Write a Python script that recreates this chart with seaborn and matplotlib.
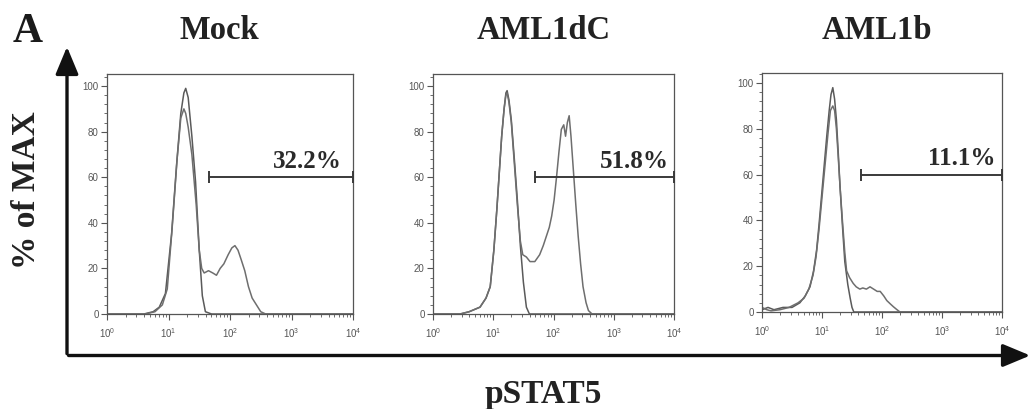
import numpy as np
import pandas as pd
import seaborn as sns
import matplotlib
matplotlib.use("Agg")
import matplotlib.pyplot as plt
from matplotlib.patches import FancyArrowPatch
from matplotlib.ticker import FixedLocator, AutoMinorLocator, LogLocator, NullFormatter

# ---------------- data ----------------
panel_titles = ["Mock", "AML1dC", "AML1b"]
gate_percent = ["32.2%", "51.8%", "11.1%"]
gate_start = [46, 49, 45]          # fluorescence value where the gate begins
gate_end = [10000, 10000, 10000]
gate_level = [60, 60, 60]          # % of MAX height of the gate bar
y_ticks = [0, 20, 40, 60, 80, 100]
x_tick_decades = [0, 1, 2, 3, 4]

# Mock
mock_ctrl_logx = [0.0, 0.6, 0.75, 0.85, 0.95, 1.05, 1.13, 1.2, 1.25, 1.28, 1.32, 1.38, 1.44, 1.5, 1.55, 1.6, 1.7, 4.0]
mock_ctrl_y = [0, 0, 1, 3, 9, 35, 65, 88, 97, 99, 95, 78, 58, 28, 8, 1, 0, 0]
mock_samp_logx = [0.0, 0.62, 0.78, 0.9, 0.98, 1.06, 1.14, 1.2, 1.25, 1.28, 1.32, 1.38, 1.45, 1.5, 1.54,
                  1.58, 1.65, 1.72, 1.78, 1.84, 1.9, 1.97, 2.03, 2.08, 2.13, 2.18, 2.24, 2.3, 2.36, 2.43,
                  2.5, 2.58, 4.0]
mock_samp_y = [0, 0, 1, 4, 11, 38, 68, 86, 90, 88, 82, 70, 48, 28, 20,
               18, 19, 18, 17, 20, 22, 26, 29, 30, 28, 24, 19, 12, 7, 4,
               1, 0, 0]

# AML1dC
aml1dc_ctrl_logx = [0.0, 0.45, 0.6, 0.78, 0.88, 0.95, 1.01, 1.06, 1.1, 1.14, 1.18, 1.21, 1.23, 1.26, 1.3,
                    1.35, 1.4, 1.45, 1.5, 1.55, 1.6, 4.0]
aml1dc_ctrl_y = [0, 0, 1, 3, 7, 12, 28, 46, 62, 78, 90, 97, 98, 94, 85,
                 68, 50, 30, 14, 3, 0, 0]
aml1dc_samp_logx = [0.0, 0.45, 0.6, 0.78, 0.88, 0.95, 1.01, 1.06, 1.1, 1.14, 1.18, 1.21, 1.23, 1.26, 1.3,
                    1.35, 1.4, 1.45, 1.49, 1.55, 1.61, 1.69, 1.77, 1.83, 1.88, 1.93, 1.97, 2.01, 2.05,
                    2.09, 2.13, 2.17, 2.2, 2.23, 2.26, 2.29, 2.33, 2.37, 2.41, 2.45, 2.49, 2.54, 2.58,
                    2.64, 4.0]
aml1dc_samp_y = [0, 0, 1, 3, 7, 12, 28, 46, 62, 78, 90, 96, 97, 93, 84,
                 66, 48, 32, 26, 25, 23, 23, 26, 30, 34, 38, 43, 50, 60,
                 71, 81, 83, 78, 84, 87, 78, 63, 48, 34, 22, 12, 5, 1.5,
                 0, 0]

# AML1b
aml1b_ctrl_logx = [0.0, 0.1, 0.2, 0.35, 0.5, 0.63, 0.72, 0.8, 0.86, 0.91, 0.95, 0.99, 1.04, 1.08, 1.12,
                   1.15, 1.18, 1.21, 1.24, 1.27, 1.3, 1.34, 1.38, 1.43, 1.47, 1.5, 1.53, 1.6, 4.0]
aml1b_ctrl_y = [1, 2, 1, 2, 2, 4, 7, 11, 18, 27, 38, 50, 65, 77, 88,
                95, 98, 93, 84, 70, 55, 38, 22, 12, 6, 2, 0, 0, 0]
aml1b_samp_logx = [0.0, 0.08, 0.15, 0.3, 0.45, 0.6, 0.7, 0.78, 0.85, 0.9, 0.95, 1.0, 1.05, 1.1, 1.14,
                   1.18, 1.21, 1.24, 1.27, 1.3, 1.34, 1.38, 1.41, 1.46, 1.52, 1.57, 1.63, 1.68, 1.74,
                   1.8, 1.86, 1.92, 1.97, 2.03, 2.08, 2.14, 2.19, 2.25, 2.3, 4.0]
aml1b_samp_y = [2, 1, 0.5, 1, 2, 4, 6, 10, 16, 24, 36, 50, 64, 78, 88,
                90, 88, 80, 68, 55, 40, 26, 18, 15, 12.5, 11, 10, 10.5, 10,
                11, 10, 9, 9, 7, 5, 3.5, 2.3, 1, 0, 0]

curves = [
    [(mock_ctrl_logx, mock_ctrl_y), (mock_samp_logx, mock_samp_y)],
    [(aml1dc_ctrl_logx, aml1dc_ctrl_y), (aml1dc_samp_logx, aml1dc_samp_y)],
    [(aml1b_ctrl_logx, aml1b_ctrl_y), (aml1b_samp_logx, aml1b_samp_y)],
]

# ---------------- style ----------------
sns.set_theme(style="ticks")
plt.rcParams["font.family"] = ["Liberation Sans", "DejaVu Sans"]
plt.rcParams["mathtext.fontset"] = "custom"
plt.rcParams["mathtext.rm"] = "Liberation Sans"
plt.rcParams["mathtext.it"] = "Liberation Sans"

W, H = 1036, 409
fig = plt.figure(figsize=(W / 100, H / 100), dpi=100)
fig.patch.set_facecolor("white")

# axes rectangles in pixels: (left, bottom_y, right, top_y)
rects_px = [(107, 314, 353, 74), (433, 314, 674, 74), (762, 312, 1002, 73)]
ytops = [105.3, 105.3, 104.4]
label_x = [6600, 8300, 7900]
label_y = [64, 64, 64]
title_x_px = [219, 544, 877]

serif = ["Liberation Serif", "DejaVu Serif"]
line_colors = ["#5a5a5a", "#6e6e6e"]
spine_col = "#555555"

for i in range(3):
    l, b, r, t = rects_px[i]
    ax = fig.add_axes([l / W, 1 - b / H, (r - l) / W, (b - t) / H])
    ax.set_facecolor("white")
    for (lx, yy), c in zip(curves[i], line_colors):
        df = pd.DataFrame({"x": np.power(10.0, np.array(lx)), "y": yy})
        sns.lineplot(data=df, x="x", y="y", ax=ax, color=c, lw=1.1, sort=False,
                     estimator=None, clip_on=True)
    ax.set_xscale("log")
    ax.set_xlim(1, 1e4)
    ax.set_ylim(0, ytops[i])
    ax.set_xlabel("")
    ax.set_ylabel("")
    # gate
    gx = [gate_start[i], gate_end[i]]
    gy = [gate_level[i], gate_level[i]]
    ax.plot(gx, gy, color="#3a3a3a", lw=1.4, marker="|", markersize=9,
            markeredgewidth=1.4, clip_on=False, zorder=5)
    ax.text(label_x[i], label_y[i], gate_percent[i], ha="right", va="baseline",
            fontsize=18, fontweight="bold", family=serif, color="#2a2a2a")
    # ticks
    ax.yaxis.set_major_locator(FixedLocator(y_ticks))
    ax.yaxis.set_minor_locator(AutoMinorLocator(5))
    ax.set_yticklabels([str(v) for v in y_ticks])
    ax.xaxis.set_major_locator(FixedLocator([10.0 ** d for d in x_tick_decades]))
    ax.set_xticklabels([r"$10^{%d}$" % d for d in x_tick_decades])
    ax.xaxis.set_minor_locator(LogLocator(base=10, subs=np.arange(2, 10), numticks=20))
    ax.xaxis.set_minor_formatter(NullFormatter())
    ax.tick_params(axis="both", which="major", direction="out", length=4, width=0.8,
                   color=spine_col, labelsize=7, labelcolor="#555555", pad=2)
    ax.tick_params(axis="both", which="minor", direction="out", length=2.2, width=0.6,
                   color=spine_col)
    ax.tick_params(axis="x", which="major", pad=5)
    for s in ax.spines.values():
        s.set_color(spine_col)
        s.set_linewidth(0.9)
    fig.text(title_x_px[i] / W, 1 - 39 / H, panel_titles[i], ha="center", va="baseline",
             fontsize=23.5, fontweight="bold", family=serif, color="#222222")

# panel letter and axis labels
fig.text(28 / W, 1 - 42 / H, "A", ha="center", va="baseline", fontsize=30,
         fontweight="bold", family=serif, color="#1a1a1a")
fig.text(27 / W, 1 - 190 / H, "% of MAX", ha="center", va="center", rotation=90,
         fontsize=24, fontweight="bold", family=serif, color="#222222")
fig.text(543 / W, 1 - 403 / H, "pSTAT5", ha="center", va="baseline",
         fontsize=24, fontweight="bold", family=serif, color="#222222")

# big axis arrows
def px(x, y):
    return (x / W, 1 - y / H)

fig.add_artist(FancyArrowPatch(px(67, 356.5), px(67, 44), transform=fig.transFigure,
                               arrowstyle="-|>,head_length=1.2,head_width=0.5",
                               mutation_scale=14, lw=2.4, color="#111111"))
fig.add_artist(FancyArrowPatch(px(65.8, 355.5), px(1033, 355.5), transform=fig.transFigure,
                               arrowstyle="-|>,head_length=1.2,head_width=0.5",
                               mutation_scale=14, lw=2.4, color="#111111"))

fig.savefig("out.png", dpi=100, facecolor="white")
